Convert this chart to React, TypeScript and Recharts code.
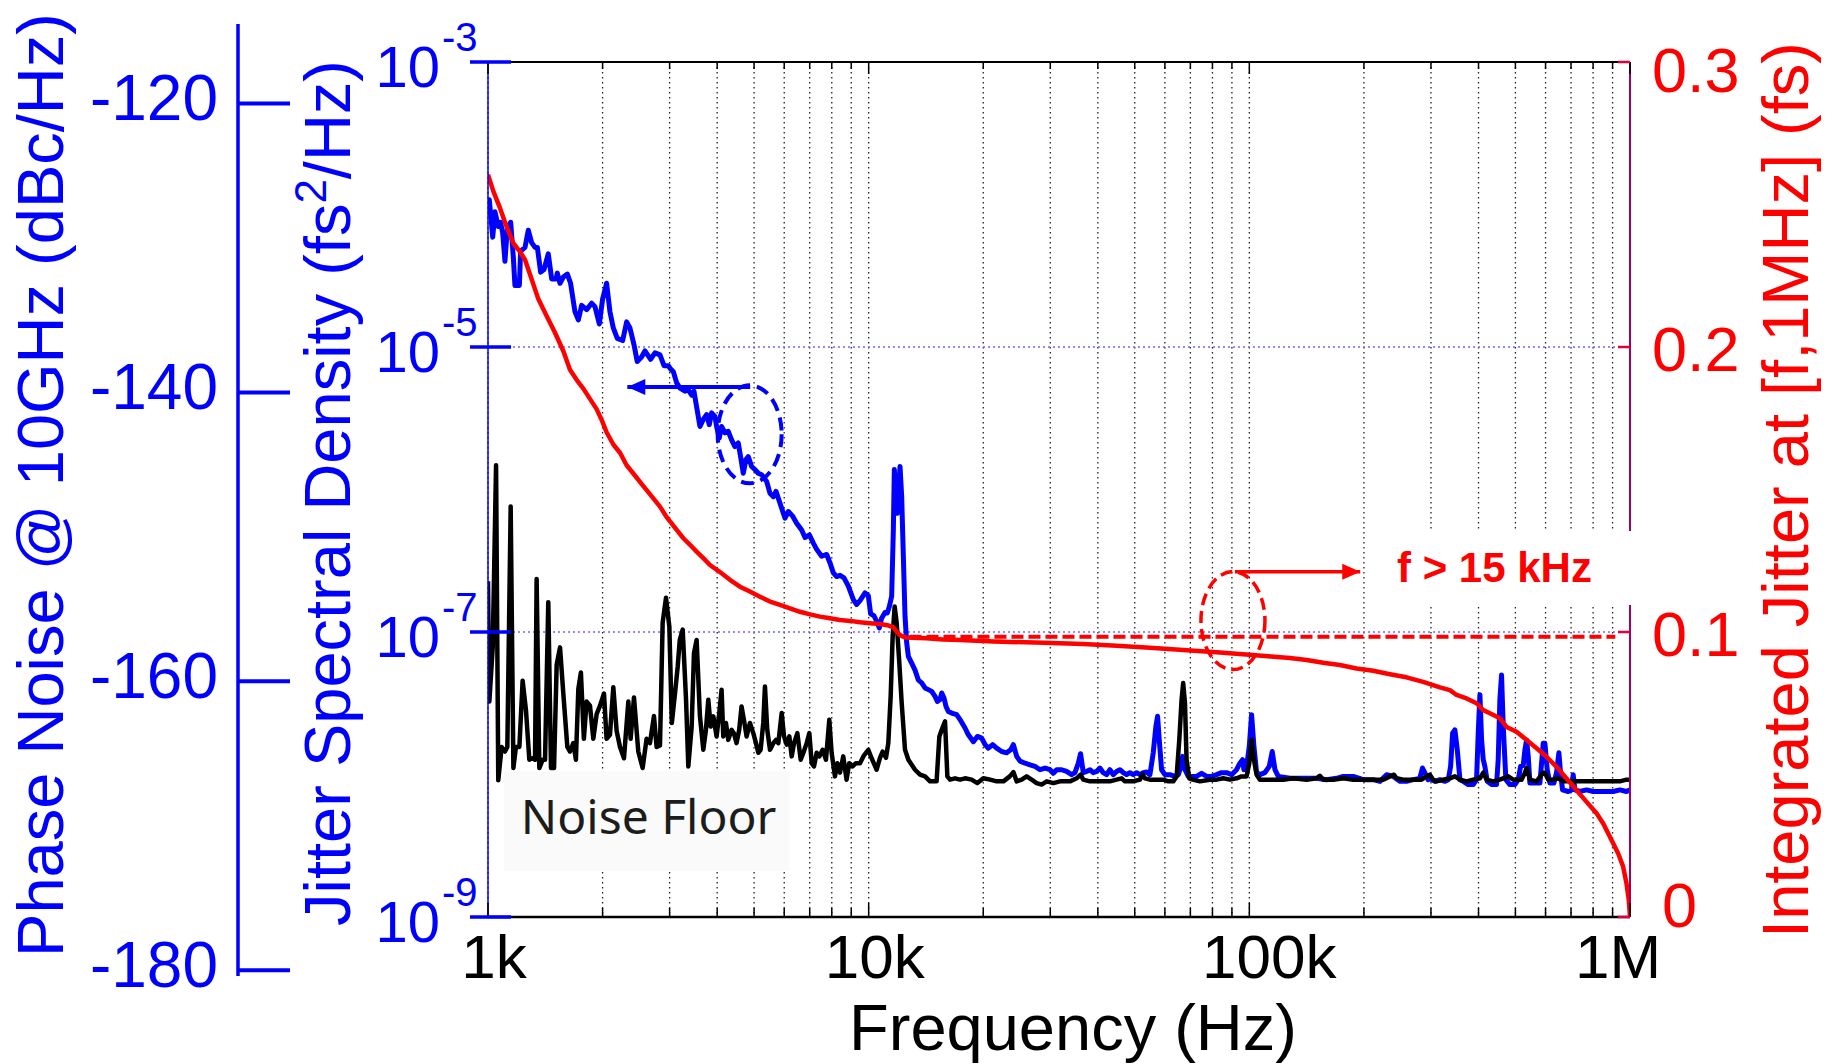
import React from "react";
import {
  LineChart,
  Line,
  XAxis,
  YAxis,
  CartesianGrid,
  ReferenceLine,
  ReferenceDot,
  ReferenceArea,
  Label,
} from "recharts";

const W = 1843;
const H = 1064;
const FONT = '"Liberation Sans", Arial, Helvetica, sans-serif';
const BLUE = "#0000ff";
const RED = "#ff0000";
const AXIS_PURPLE = "#a0005f";

// ---------------- axes / ticks ----------------
const xMajorTicks = [1000, 10000, 100000, 1000000];
const xMajorLabels = ["1k", "10k", "100k", "1M"];
const xAllTicks = [
  1000, 2000, 3000, 4000, 5000, 6000, 7000, 8000, 9000,
  10000, 20000, 30000, 40000, 50000, 60000, 70000, 80000, 90000,
  100000, 200000, 300000, 400000, 500000, 600000, 700000, 800000, 900000,
  1000000,
];
const jsdTicks = [1e-9, 1e-7, 1e-5, 1e-3];
const jsdExponents = ["-9", "-7", "-5", "-3"];
const ijTicks = [0, 0.1, 0.2, 0.3];
const ijLabels = ["0", "0.1", "0.2", "0.3"];
const pnTicks = [-180, -160, -140, -120];
const pnLabels = ["-180", "-160", "-140", "-120"];

// ---------------- data: [frequency Hz, value] ----------------
const blueJsd = [
  [1000, 9.5e-5], [1008, 1.08e-4], [1029, 5.9e-5], [1043, 8.9e-5], [1064, 7.0e-5], [1079, 7.5e-5],
  [1093, 6.3e-5], [1108, 4.0e-5], [1124, 6.8e-5], [1147, 7.5e-5], [1166, 4.2e-5], [1177, 2.7e-5],
  [1209, 2.7e-5], [1218, 4.7e-5], [1251, 5.0e-5], [1276, 6.6e-5], [1302, 5.4e-5], [1329, 5.0e-5],
  [1348, 5.0e-5], [1375, 3.35e-5], [1403, 3.5e-5], [1440, 4.5e-5], [1470, 3.0e-5], [1509, 3.0e-5],
  [1521, 3.3e-5], [1546, 2.8e-5], [1577, 3.1e-5], [1616, 3.25e-5], [1648, 2.8e-5], [1692, 1.77e-5],
  [1727, 1.55e-5], [1762, 1.96e-5], [1816, 1.83e-5], [1872, 2.03e-5], [1910, 1.92e-5], [1961, 1.45e-5],
  [2000, 2.17e-5], [2049, 2.8e-5], [2091, 1.77e-5], [2134, 1.36e-5], [2186, 1.15e-5], [2258, 1.11e-5],
  [2313, 1.5e-5], [2360, 1.36e-5], [2418, 1.04e-5], [2466, 7.9e-6], [2532, 8.5e-6], [2584, 9.4e-6],
  [2674, 8.2e-6], [2746, 9.1e-6], [2830, 8.8e-6], [2900, 7.4e-6], [2977, 7.4e-6], [3006, 7.1e-6],
  [3068, 6.7e-6], [3131, 5.6e-6], [3195, 5.15e-6], [3292, 4.9e-6], [3359, 5.0e-6], [3428, 4.6e-6],
  [3476, 4.9e-6], [3532, 3.8e-6], [3604, 2.77e-6], [3678, 3.1e-6], [3752, 3.35e-6], [3813, 2.85e-6],
  [3867, 3.45e-6], [3946, 3.26e-6], [3986, 2.77e-6], [4051, 2.3e-6], [4108, 2.77e-6], [4192, 2.5e-6],
  [4277, 2.56e-6], [4364, 2.23e-6], [4453, 2.0e-6], [4544, 2.12e-6], [4608, 1.7e-6], [4684, 1.3e-6],
  [4760, 1.62e-6], [4828, 1.7e-6], [4926, 1.45e-6], [5027, 1.38e-6], [5129, 1.3e-6], [5234, 1.27e-6],
  [5395, 1.14e-6], [5506, 9.4e-7], [5618, 8.9e-7], [5709, 9.7e-7], [5849, 8.0e-7], [6029, 6.3e-7],
  [6152, 7.0e-7], [6315, 6.5e-7], [6470, 5.8e-7], [6668, 5.2e-7], [6804, 4.6e-7], [6985, 4.8e-7],
  [7156, 4.2e-7], [7302, 3.8e-7], [7526, 3.4e-7], [7757, 3.5e-7], [7915, 3.05e-7], [8076, 2.6e-7],
  [8241, 2.45e-7], [8409, 2.5e-7], [8614, 2.4e-7], [8843, 2.1e-7], [9116, 1.69e-7], [9302, 1.56e-7],
  [9489, 1.66e-7], [9781, 1.88e-7], [9978, 1.8e-7], [10120, 1.34e-7], [10325, 1.3e-7], [10494, 1.19e-7],
  [10665, 1.07e-7], [10817, 1.25e-7], [11040, 1.37e-7], [11195, 1.36e-7], [11333, 1.51e-7], [11493, 1.78e-7],
  [11610, 5.2e-7], [11680, 1.38e-6], [11799, 8.95e-7], [11894, 6.8e-7], [12088, 1.45e-6], [12210, 8.95e-7],
  [12334, 3.4e-7], [12460, 1.29e-7], [12586, 8.4e-8], [12714, 6.75e-8], [12972, 6.05e-8], [13237, 5.4e-8],
  [13506, 4.6e-8], [13781, 4.4e-8], [14063, 4.05e-8], [14349, 3.94e-8], [14642, 3.83e-8], [14940, 3.53e-8],
  [15152, 3.26e-8], [15398, 3.35e-8], [15555, 3.73e-8], [15775, 3.44e-8], [15967, 3.0e-8], [16193, 2.77e-8],
  [16523, 2.7e-8], [17030, 2.63e-8], [17378, 2.43e-8], [17912, 2.12e-8], [18277, 1.9e-8], [18838, 1.7e-8],
  [19302, 1.85e-8], [19813, 1.8e-8], [20218, 1.62e-8], [20628, 1.53e-8], [21173, 1.62e-8], [21690, 1.53e-8],
  [22356, 1.45e-8], [23045, 1.42e-8], [23610, 1.49e-8], [23995, 1.62e-8], [24484, 1.34e-8], [24985, 1.24e-8],
  [25751, 1.2e-8], [26541, 1.17e-8], [27355, 1.14e-8], [28194, 1.08e-8], [29058, 1.11e-8], [29950, 1.08e-8],
  [30559, 1.02e-8], [31180, 1.08e-8], [32130, 1.08e-8], [33110, 1.05e-8], [34130, 9.97e-9], [34830, 1.03e-8],
  [35530, 1.2e-8], [36030, 1.4e-8], [36630, 1.03e-8], [37370, 1.05e-8], [38130, 1.08e-8], [38900, 1.03e-8],
  [39700, 1.05e-8], [40500, 1.11e-8], [41330, 1.03e-8], [42170, 9.97e-9], [43030, 1.08e-8], [43900, 9.97e-9],
  [44800, 1.05e-8], [45710, 1.08e-8], [46650, 1.03e-8], [47590, 9.97e-9], [48560, 1.03e-8], [49550, 9.97e-9],
  [50560, 1.03e-8], [51590, 9.97e-9], [52650, 1.03e-8], [53710, 1.04e-8], [54810, 9.97e-9], [55920, 1.42e-8],
  [56830, 2.18e-8], [57410, 2.56e-8], [57990, 1.75e-8], [58820, 1.08e-8], [60010, 9.97e-9], [61850, 9.97e-9],
  [63740, 9.7e-9], [65070, 9.97e-9], [66130, 1.14e-8], [66800, 1.34e-8], [67750, 1.08e-8], [69110, 9.7e-9],
  [70520, 9.7e-9], [72680, 9.7e-9], [74910, 1.02e-8], [77210, 9.7e-9], [79580, 9.7e-9], [82040, 9.97e-9],
  [84540, 1.03e-8], [87150, 1.03e-8], [89820, 9.97e-9], [92580, 1.08e-8], [94460, 1.2e-8], [95990, 1.27e-8],
  [96780, 1.08e-8], [98350, 1.14e-8], [99960, 1.57e-8], [101370, 2.63e-8], [102820, 1.57e-8], [104500, 1.03e-8],
  [106610, 9.97e-9], [109880, 1.03e-8], [112800, 1.14e-8], [114870, 1.45e-8], [116760, 1.08e-8], [119130, 9.7e-9],
  [127830, 9.4e-9], [133100, 9.4e-9], [141400, 9.4e-9], [150200, 9.4e-9], [159600, 9.2e-9], [169500, 9.4e-9],
  [176500, 9.7e-9], [187500, 9.7e-9], [199200, 9.2e-9], [211600, 9.2e-9], [220300, 8.95e-9], [229400, 9.97e-9],
  [238800, 9.7e-9], [248600, 8.95e-9], [258800, 8.95e-9], [269400, 9.2e-9], [280400, 9.4e-9], [285000, 1.11e-8],
  [289000, 1.03e-8], [294900, 9.2e-9], [298200, 9.4e-9], [307300, 8.95e-9], [316700, 9.2e-9], [326500, 8.95e-9],
  [333100, 9.2e-9], [337900, 1.14e-8], [342000, 1.95e-8], [346700, 2.06e-8], [351800, 1.49e-8], [357500, 9.2e-9],
  [364700, 8.95e-9], [375900, 8.5e-9], [387400, 8.5e-9], [395300, 9.2e-9], [399300, 1.95e-8], [403400, 3.63e-8],
  [407500, 1.75e-8], [411600, 1.27e-8], [415700, 1.14e-8], [421700, 8.95e-9], [432800, 8.5e-9], [446100, 8.5e-9],
  [450600, 1.27e-8], [455200, 3.35e-8], [459800, 5.0e-8], [464500, 2.18e-8], [472000, 9.2e-9], [483600, 8.5e-9],
  [498500, 8.5e-9], [508700, 9.2e-9], [515900, 1.14e-8], [524300, 1.16e-8], [529600, 1.49e-8], [535000, 1.75e-8],
  [540400, 1.34e-8], [545800, 8.7e-9], [562600, 8.7e-9], [579900, 8.7e-9], [591600, 1.66e-8], [597600, 1.66e-8],
  [606100, 1.08e-8], [616000, 8.7e-9], [631000, 8.7e-9], [641200, 1.03e-8], [650400, 1.42e-8], [657000, 1.03e-8],
  [665000, 7.8e-9], [688200, 7.6e-9], [702100, 7.8e-9], [709300, 9.97e-9], [716500, 7.8e-9], [738400, 7.6e-9],
  [768800, 7.8e-9], [800400, 7.6e-9], [833300, 7.6e-9], [867600, 7.6e-9], [903200, 7.6e-9], [940400, 7.8e-9],
  [979100, 7.6e-9], [1000000, 7.8e-9],
];

const noiseFloorJsd = [
  [1000, 2.27e-7], [1008, 3.25e-8], [1029, 7.8e-8], [1050, 1.48e-6], [1064, 9.1e-9], [1086, 1.56e-8],
  [1108, 1.45e-8], [1124, 1.56e-8], [1147, 7.6e-7], [1166, 1.11e-8], [1184, 1.56e-8], [1209, 1.56e-8],
  [1233, 4.55e-8], [1258, 2.84e-8], [1284, 1.27e-8], [1310, 1.3e-8], [1329, 1.27e-8], [1342, 2.35e-7],
  [1364, 1.11e-8], [1392, 1.27e-8], [1412, 1.27e-8], [1440, 1.62e-7], [1464, 1.11e-8], [1491, 1.11e-8],
  [1515, 5.9e-8], [1546, 7.8e-8], [1577, 3.7e-8], [1616, 1.56e-8], [1642, 1.45e-8], [1675, 1.66e-8],
  [1702, 1.27e-8], [1727, 3.97e-8], [1754, 5.2e-8], [1786, 1.78e-8], [1816, 3.25e-8], [1853, 3.04e-8],
  [1891, 1.78e-8], [1929, 2.65e-8], [1969, 3.04e-8], [2017, 3.7e-8], [2049, 1.78e-8], [2091, 1.9e-8],
  [2134, 4.1e-8], [2177, 2.03e-8], [2222, 1.56e-8], [2276, 1.3e-8], [2337, 3.25e-8], [2370, 1.78e-8],
  [2418, 3.47e-8], [2482, 1.45e-8], [2548, 1.11e-8], [2610, 1.78e-8], [2663, 1.66e-8], [2729, 2.57e-8],
  [2773, 1.56e-8], [2830, 1.6e-8], [2876, 1.16e-7], [2935, 1.74e-7], [2995, 1.09e-7], [3040, 2.3e-8],
  [3100, 3.73e-8], [3150, 5.7e-8], [3190, 8.8e-8], [3247, 1.04e-7], [3313, 3.35e-8], [3359, 1.14e-8],
  [3428, 2.17e-8], [3476, 7.1e-8], [3532, 8.8e-8], [3604, 2.56e-8], [3678, 1.49e-8], [3737, 2.06e-8],
  [3791, 3.35e-8], [3845, 2.17e-8], [3908, 2.56e-8], [3986, 1.85e-8], [4051, 2.7e-8], [4108, 3.94e-8],
  [4150, 1.85e-8], [4218, 2.3e-8], [4277, 1.75e-8], [4364, 2.06e-8], [4425, 1.95e-8], [4497, 1.66e-8],
  [4570, 2.06e-8], [4635, 3.0e-8], [4702, 2.42e-8], [4779, 1.85e-8], [4876, 2.3e-8], [4977, 1.95e-8],
  [5058, 1.66e-8], [5129, 1.42e-8], [5202, 1.49e-8], [5286, 2.3e-8], [5340, 4.15e-8], [5415, 2.06e-8],
  [5506, 1.49e-8], [5618, 1.66e-8], [5709, 1.75e-8], [5790, 1.66e-8], [5909, 2.7e-8], [5993, 1.85e-8],
  [6090, 1.62e-8], [6189, 1.85e-8], [6278, 1.34e-8], [6367, 1.66e-8], [6497, 1.95e-8], [6629, 1.27e-8],
  [6737, 1.42e-8], [6874, 1.66e-8], [6985, 1.95e-8], [7085, 1.2e-8], [7185, 1.14e-8], [7302, 1.42e-8],
  [7419, 1.34e-8], [7570, 1.49e-8], [7724, 1.27e-8], [7881, 2.42e-8], [7993, 1.42e-8], [8156, 9.7e-9],
  [8272, 1.2e-8], [8409, 1.03e-8], [8575, 1.34e-8], [8748, 9.2e-9], [8891, 1.2e-8], [9072, 1.14e-8],
  [9257, 1.2e-8], [9489, 1.2e-8], [9700, 1.35e-8], [9977, 1.49e-8], [10181, 1.3e-8], [10494, 1.08e-8],
  [10708, 1.31e-8], [10882, 1.45e-8], [11104, 1.31e-8], [11262, 1.66e-8], [11423, 3.53e-8], [11562, 9.3e-8],
  [11703, 1.51e-7], [11846, 1.16e-7], [12038, 6.05e-8], [12210, 3.18e-8], [12460, 1.49e-8], [12714, 1.27e-8],
  [12972, 1.17e-8], [13237, 1.08e-8], [13643, 9.97e-9], [14063, 9.7e-9], [14495, 8.95e-9], [15081, 8.95e-9],
  [15336, 1.85e-8], [15555, 2.06e-8], [15871, 2.36e-8], [16096, 9.7e-9], [16357, 9.2e-9], [16860, 9.4e-9],
  [17378, 9.2e-9], [17912, 9.4e-9], [18640, 9.2e-9], [19302, 8.7e-9], [20010, 9.4e-9], [20840, 9.2e-9],
  [21690, 8.95e-9], [22590, 8.95e-9], [23480, 9.7e-9], [23995, 1.04e-8], [24484, 8.95e-9], [25230, 9.2e-9],
  [26000, 9.7e-9], [26800, 9.2e-9], [27620, 8.7e-9], [28470, 8.5e-9], [29350, 8.95e-9], [30559, 8.7e-9],
  [31812, 8.95e-9], [33800, 8.95e-9], [35180, 9.4e-9], [36030, 9.97e-9], [36630, 9.2e-9], [38130, 8.95e-9],
  [40500, 8.95e-9], [43030, 8.95e-9], [44800, 9.2e-9], [46180, 9.4e-9], [47120, 8.95e-9], [49550, 8.95e-9],
  [51590, 9.2e-9], [52430, 9.97e-9], [53170, 9.4e-9], [54810, 9.2e-9], [57040, 9.2e-9], [59390, 9.2e-9],
  [61230, 8.95e-9], [63110, 8.95e-9], [64410, 9.7e-9], [65460, 1.75e-8], [66380, 3.35e-8], [67020, 4.38e-8],
  [67750, 3.18e-8], [68410, 1.27e-8], [69530, 9.4e-9], [70950, 9.2e-9], [74180, 8.95e-9], [78780, 9.2e-9],
  [82040, 9.2e-9], [85400, 9.4e-9], [88920, 9.2e-9], [92580, 9.4e-9], [95390, 9.7e-9], [97360, 9.7e-9],
  [98350, 9.7e-9], [99960, 1.2e-8], [101370, 1.75e-8], [102820, 1.27e-8], [104500, 9.97e-9], [106610, 9.2e-9],
  [111000, 9.2e-9], [115600, 9.2e-9], [122800, 9.2e-9], [130500, 9.4e-9], [141400, 9.2e-9], [150200, 9.4e-9],
  [153200, 9.8e-9], [156400, 9.2e-9], [166200, 9.2e-9], [176500, 9.4e-9], [187500, 9.2e-9], [199200, 9.2e-9],
  [211600, 9.2e-9], [224800, 9.2e-9], [234100, 9.7e-9], [239800, 9.97e-9], [243700, 9.4e-9], [253700, 9.2e-9],
  [269400, 9.2e-9], [283400, 9.2e-9], [292100, 9.7e-9], [298000, 9.97e-9], [304000, 9.2e-9], [310400, 8.95e-9],
  [323200, 9.2e-9], [336400, 9.4e-9], [346700, 9.7e-9], [357500, 9.2e-9], [372000, 8.95e-9], [387400, 9.2e-9],
  [403400, 9.4e-9], [411600, 1.03e-8], [420100, 9.2e-9], [437400, 8.95e-9], [455200, 9.2e-9], [478700, 9.7e-9],
  [493400, 9.2e-9], [519000, 9.2e-9], [529600, 1.03e-8], [535000, 1.11e-8], [545800, 9.2e-9], [568300, 8.95e-9],
  [591600, 1.03e-8], [597600, 1.03e-8], [610000, 9.2e-9], [628600, 9.2e-9], [647800, 9.4e-9], [667700, 8.95e-9],
  [709300, 8.95e-9], [753800, 8.95e-9], [816800, 8.95e-9], [885300, 8.95e-9], [940400, 8.95e-9], [979100, 9.2e-9],
  [1000000, 9.2e-9],
];

const integratedJitter = [
  [1000, 0.2605], [1033, 0.2546], [1075, 0.2488], [1119, 0.2422], [1166, 0.2364], [1213, 0.2335],
  [1251, 0.2306], [1289, 0.2255], [1356, 0.2168], [1426, 0.2109], [1499, 0.2051], [1577, 0.1986],
  [1642, 0.192], [1711, 0.1884], [1780, 0.1854], [1853, 0.1818], [1929, 0.1782], [1988, 0.1745],
  [2049, 0.1701], [2134, 0.1658], [2222, 0.1629], [2313, 0.1585], [2432, 0.1549], [2559, 0.1512],
  [2692, 0.1476], [2830, 0.144], [2946, 0.1403], [3036, 0.1381], [3131, 0.1358], [3260, 0.1329],
  [3394, 0.1306], [3532, 0.1282], [3678, 0.1259], [3829, 0.1235], [4051, 0.1212], [4321, 0.1183],
  [4590, 0.1159], [4876, 0.1142], [5181, 0.1124], [5506, 0.1107], [5849, 0.1095], [6214, 0.1083],
  [6601, 0.1071], [7013, 0.1062], [7451, 0.1054], [7915, 0.1048], [8409, 0.1042], [8933, 0.1039],
  [9491, 0.1034], [10080, 0.1031], [10708, 0.1028], [11200, 0.1024], [11610, 0.1016], [11846, 0.1001],
  [12088, 0.0989], [12460, 0.0981], [14173, 0.0978], [15680, 0.0974], [17378, 0.0972], [19220, 0.0969],
  [21280, 0.0967], [23570, 0.0965], [28900, 0.0962], [36630, 0.0958], [44800, 0.0952], [54810, 0.0945],
  [67020, 0.0937], [82040, 0.0929], [100000, 0.092], [114000, 0.0914], [127830, 0.0909], [141400, 0.0902],
  [156400, 0.0892], [173000, 0.0884], [191300, 0.0872], [211600, 0.0864], [234100, 0.0852], [258800, 0.0841],
  [286200, 0.0825], [316700, 0.0806], [336400, 0.0796], [350200, 0.0779], [372000, 0.0767], [395300, 0.075],
  [411600, 0.0726], [428600, 0.0715], [455200, 0.0697], [473900, 0.0667], [503500, 0.065], [535000, 0.0621],
  [568300, 0.0592], [603700, 0.0562], [641200, 0.0527], [681300, 0.0486], [723900, 0.0445], [768800, 0.0404],
  [816800, 0.0364], [850400, 0.0328], [894200, 0.027], [931100, 0.0223], [959600, 0.0176], [979100, 0.0117],
  [992900, 0.0059], [1000000, 0],
];

// annotations (data coordinates)
const jitterAbove15k = 0.0983;
const jitterAbove15kRange = [12800, 915000];
const blueEllipseCenter = [4868, 2.44e-6];
const blueArrow = { from: 4884, to: 2323, level: 5.24e-6 };
const redEllipseCenter = [90570, 0.104];
const redArrow = { from: 91620, to: 195600, level: 0.1211 };
const noiseFloorBox = { f1: 1100, f2: 6200, v1: 2.1e-9, v2: 1.05e-8 };

const toRows = (arr) => arr.map(([f, v]) => ({ f, v }));
const blueRows = toRows(blueJsd);
const blackRows = toRows(noiseFloorJsd);
const redRows = toRows(integratedJitter);

// ---------------- tick renderers ----------------
const X_LABEL_NUDGE = [6, 6, 20, -12];

const BottomTick = (p) => {
  const { x, y, payload } = p;
  const i = xMajorTicks.indexOf(payload.value);
  const major = i >= 0;
  return (
    <g>
      <line x1={x} x2={x} y1={y} y2={y - (major ? 14 : 9)} stroke="#000" strokeWidth={1.5} />
      {major && (
        <text x={x + X_LABEL_NUDGE[i]} y={y + 61} textAnchor="middle" fontSize={62} fontFamily={FONT} fill="#000">
          {xMajorLabels[i]}
        </text>
      )}
    </g>
  );
};

const TopTick = (p) => {
  const { x, y, payload } = p;
  const major = xMajorTicks.indexOf(payload.value) >= 0;
  return <line x1={x} x2={x} y1={y} y2={y + (major ? 12 : 7)} stroke="#000" strokeWidth={1.5} />;
};

const JsdTick = (p) => {
  const { x, y, payload } = p;
  const i = jsdTicks.findIndex((t) => Math.abs(Math.log10(t) - Math.log10(payload.value)) < 0.01);
  return (
    <g>
      <line x1={x - 18} x2={x + 23} y1={y} y2={y} stroke={BLUE} strokeWidth={3.5} />
      <text x={x - 48} y={y + 25} textAnchor="end" fontSize={58} fontFamily={FONT} fill={BLUE}>
        10
      </text>
      <text x={x - 46} y={y - 11} textAnchor="start" fontSize={40} fontFamily={FONT} fill={BLUE}>
        {i >= 0 ? jsdExponents[i] : ""}
      </text>
    </g>
  );
};

const IjTick = (p) => {
  const { x, y, payload } = p;
  const i = ijTicks.findIndex((t) => Math.abs(t - payload.value) < 1e-6);
  const dy = i === 0 ? 10 : i === 3 ? 30 : 24;
  const dx = i === 0 ? 32 : 22;
  return (
    <g>
      <line x1={x - 12} x2={x} y1={y} y2={y} stroke="#e0003a" strokeWidth={2.5} />
      <text x={x + dx} y={y + dy} textAnchor="start" fontSize={63} fontFamily={FONT} fill={RED}>
        {i >= 0 ? ijLabels[i] : ""}
      </text>
    </g>
  );
};

const PnTick = (p) => {
  const { x, y, payload } = p;
  const i = pnTicks.findIndex((t) => Math.abs(t - payload.value) < 1e-6);
  return (
    <g>
      <line x1={x} x2={x + 52} y1={y} y2={y} stroke={BLUE} strokeWidth={4} />
      <text x={x - 20} y={y + 17} textAnchor="end" fontSize={64} fontFamily={FONT} fill={BLUE}>
        {i >= 0 ? pnLabels[i] : ""}
      </text>
    </g>
  );
};

// ---------------- titles ----------------
const XTitle = () => (
  <text x={1073} y={1050} textAnchor="middle" fontSize={65} fontFamily={FONT} fill="#000">
    Frequency (Hz)
  </text>
);
const JsdTitle = () => (
  <text transform="translate(350,493) rotate(-90)" textAnchor="middle" fontSize={65} fontFamily={FONT} fill={BLUE}>
    Jitter Spectral Density (fs
    <tspan dy={-24} fontSize={44}>2</tspan>
    <tspan dy={24}>/Hz)</tspan>
  </text>
);
const IjTitle = () => (
  <text transform="translate(1808,490) rotate(-90)" textAnchor="middle" fontSize={65} fontFamily={FONT} fill={RED}>
    Integrated Jitter at [f,1MHz] (fs)
  </text>
);
const PnTitle = () => (
  <text transform="translate(63,485) rotate(-90)" textAnchor="middle" fontSize={65} fontFamily={FONT} fill={BLUE}>
    Phase Noise @ 10GHz (dBc/Hz)
  </text>
);

const NoiseFloorLabel = (p) => {
  const vb = p.viewBox || { x: 0, y: 0 };
  return (
    <text x={vb.x + 17} y={vb.y + 63} fontSize={48} fontFamily='"Noto Sans", "Open Sans", sans-serif' fill="#1c1c1c">
      Noise Floor
    </text>
  );
};

const blueEllipse = (p) => (
  <ellipse cx={p.cx} cy={p.cy} rx={32} ry={49} fill="none" stroke={BLUE} strokeWidth={4} strokeDasharray="13 7" />
);
const redEllipse = (p) => (
  <ellipse cx={p.cx} cy={p.cy} rx={32} ry={49} fill="none" stroke={RED} strokeWidth={3.5} strokeDasharray="12 6" />
);
const leftHead = (p) => (
  <polygon points={`${p.cx},${p.cy} ${p.cx + 18},${p.cy - 8} ${p.cx + 18},${p.cy + 8}`} fill={BLUE} />
);
const rightHead = (p) => (
  <polygon points={`${p.cx},${p.cy} ${p.cx - 18},${p.cy - 8} ${p.cx - 18},${p.cy + 8}`} fill={RED} />
);

export default function App() {
  return (
    <div style={{ position: "absolute", left: 0, top: 0, width: W, height: H, background: "#fff", overflow: "hidden" }}>
      {/* outer phase-noise axis */}
      <div style={{ position: "absolute", left: 0, top: 0 }}>
        <LineChart width={W} height={H} data={[]} margin={{ top: 24, right: 0, bottom: 88, left: 138 }}>
          <XAxis hide type="number" dataKey="f" domain={[0, 1]} />
          <YAxis
            type="number"
            domain={[-180.4, -114.5]}
            ticks={pnTicks}
            interval={0}
            allowDataOverflow
            width={100}
            tickSize={0}
            tickMargin={0}
            tick={PnTick}
            tickLine={false}
            axisLine={{ stroke: BLUE, strokeWidth: 3.5 }}
          >
            <Label content={PnTitle} />
          </YAxis>
        </LineChart>
      </div>

      {/* main chart */}
      <div style={{ position: "absolute", left: 0, top: 0 }}>
        <LineChart width={W} height={H} margin={{ top: 61, right: 113, bottom: 87, left: 388 }}>
          <CartesianGrid xAxisId="x" yAxisId="jsd" horizontal={false} vertical stroke="#222" strokeDasharray="1.5 3.5" strokeWidth={1.3} />
          <CartesianGrid xAxisId="x" yAxisId="jsd" vertical={false} horizontal stroke="#6a6aff" strokeDasharray="2 3" strokeWidth={1.4} />
          <XAxis
            xAxisId="x"
            dataKey="f"
            type="number"
            scale="log"
            domain={[1000, 1000000]}
            ticks={xAllTicks}
            interval={0}
            allowDataOverflow
            height={60}
            tickSize={0}
            tickMargin={0}
            tick={BottomTick}
            tickLine={false}
            axisLine={{ stroke: "#000", strokeWidth: 2.5 }}
          >
            <Label content={XTitle} />
          </XAxis>
          <XAxis
            xAxisId="top"
            orientation="top"
            dataKey="f"
            type="number"
            scale="log"
            domain={[1000, 1000000]}
            ticks={xAllTicks}
            interval={0}
            allowDataOverflow
            height={1}
            tickSize={0}
            tickMargin={0}
            tick={TopTick}
            tickLine={false}
            axisLine={{ stroke: "#000", strokeWidth: 2 }}
          />
          <YAxis
            yAxisId="jsd"
            type="number"
            scale="log"
            domain={[1e-9, 1e-3]}
            ticks={jsdTicks}
            interval={0}
            allowDataOverflow
            width={100}
            tickSize={0}
            tickMargin={0}
            tick={JsdTick}
            tickLine={false}
            axisLine={{ stroke: BLUE, strokeWidth: 1.5 }}
          >
            <Label content={JsdTitle} />
          </YAxis>
          <YAxis
            yAxisId="ij"
            orientation="right"
            type="number"
            domain={[0, 0.3]}
            ticks={ijTicks}
            interval={0}
            allowDataOverflow
            width={100}
            tickSize={0}
            tickMargin={0}
            tick={IjTick}
            tickLine={false}
            axisLine={{ stroke: AXIS_PURPLE, strokeWidth: 2 }}
          >
            <Label content={IjTitle} />
          </YAxis>

          <ReferenceArea
            xAxisId="x"
            yAxisId="jsd"
            x1={noiseFloorBox.f1}
            x2={noiseFloorBox.f2}
            y1={noiseFloorBox.v1}
            y2={noiseFloorBox.v2}
            fill="#fafafa"
            fillOpacity={1}
            stroke="none"
            label={<NoiseFloorLabel />}
          />

          <Line xAxisId="x" yAxisId="jsd" data={blueRows} dataKey="v" stroke={BLUE} strokeWidth={5} dot={false} activeDot={false} strokeLinejoin="round" isAnimationActive={false} />
          <Line xAxisId="x" yAxisId="jsd" data={blackRows} dataKey="v" stroke="#000" strokeWidth={4.5} dot={false} activeDot={false} strokeLinejoin="round" isAnimationActive={false} />
          <Line xAxisId="x" yAxisId="ij" data={redRows} dataKey="v" stroke={RED} strokeWidth={4.5} dot={false} activeDot={false} strokeLinejoin="round" isAnimationActive={false} />

          <ReferenceLine
            xAxisId="x"
            yAxisId="ij"
            segment={[
              { x: jitterAbove15kRange[0], y: jitterAbove15k },
              { x: jitterAbove15kRange[1], y: jitterAbove15k },
            ]}
            stroke={RED}
            strokeWidth={4}
            strokeDasharray="12 5"
          />

          {/* blue annotation: ellipse + arrow to left axis */}
          <ReferenceDot xAxisId="x" yAxisId="jsd" x={blueEllipseCenter[0]} y={blueEllipseCenter[1]} r={1} shape={blueEllipse} />
          <ReferenceLine
            xAxisId="x"
            yAxisId="jsd"
            segment={[
              { x: blueArrow.to, y: blueArrow.level },
              { x: blueArrow.from, y: blueArrow.level },
            ]}
            stroke={BLUE}
            strokeWidth={4}
          />
          <ReferenceDot xAxisId="x" yAxisId="jsd" x={blueArrow.to} y={blueArrow.level} r={1} shape={leftHead} />

          {/* red annotation: ellipse + arrow to right axis */}
          <ReferenceDot xAxisId="x" yAxisId="ij" x={redEllipseCenter[0]} y={redEllipseCenter[1]} r={1} shape={redEllipse} />
          <ReferenceLine
            xAxisId="x"
            yAxisId="ij"
            segment={[
              { x: redArrow.from, y: redArrow.level },
              { x: redArrow.to, y: redArrow.level },
            ]}
            stroke={RED}
            strokeWidth={3.5}
          />
          <ReferenceDot xAxisId="x" yAxisId="ij" x={redArrow.to} y={redArrow.level} r={1} shape={rightHead} />
        </LineChart>
      </div>

      {/* "f > 15 kHz" callout on a white patch */}
      <div
        style={{
          position: "absolute",
          left: 1365,
          top: 531,
          width: 272,
          height: 74,
          background: "#fff",
        }}
      >
        <div
          style={{
            position: "absolute",
            left: 32,
            top: 0,
            lineHeight: "74px",
            fontSize: 42,
            fontWeight: "bold",
            color: RED,
            fontFamily: FONT,
            whiteSpace: "nowrap",
          }}
        >
          f &gt; 15 kHz
        </div>
      </div>
    </div>
  );
}
